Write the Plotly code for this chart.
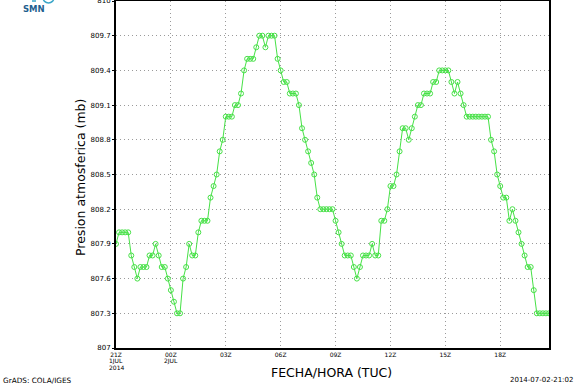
import pandas as pd
import plotly.graph_objects as go

# ---- data ----
start_time = "2014-07-01 21:00"
step = "10min"

pressure = [
    807.9, 808.0, 808.0, 808.0, 808.0, 807.8, 807.7, 807.6, 807.7, 807.7,
    807.7, 807.8, 807.8, 807.9, 807.8, 807.7, 807.7, 807.6, 807.5, 807.4,
    807.3, 807.3, 807.6, 807.7, 807.9, 807.8, 807.8, 808.0, 808.1, 808.1,
    808.1, 808.3, 808.4, 808.5, 808.7, 808.8, 809.0, 809.0, 809.0, 809.1,
    809.1, 809.2, 809.4, 809.5, 809.5, 809.5, 809.6, 809.7, 809.7, 809.6,
    809.7, 809.7, 809.7, 809.5, 809.4, 809.3, 809.3, 809.2, 809.2, 809.2,
    809.1, 808.9, 808.8, 808.7, 808.6, 808.5, 808.3, 808.2, 808.2, 808.2,
    808.2, 808.2, 808.1, 808.0, 807.9, 807.8, 807.8, 807.8, 807.7, 807.6,
    807.7, 807.8, 807.8, 807.8, 807.9, 807.8, 807.8, 808.1, 808.1, 808.2,
    808.4, 808.4, 808.5, 808.7, 808.9, 808.9, 808.8, 808.9, 809.0, 809.1,
    809.1, 809.2, 809.2, 809.2, 809.3, 809.3, 809.4, 809.4, 809.4, 809.4,
    809.3, 809.2, 809.3, 809.2, 809.1, 809.0, 809.0, 809.0, 809.0, 809.0,
    809.0, 809.0, 809.0, 808.8, 808.7, 808.5, 808.4, 808.3, 808.3, 808.1,
    808.2, 808.1, 808.0, 807.9, 807.8, 807.7, 807.7, 807.5, 807.3, 807.3,
    807.3, 807.3, 807.3,
]

y_tick_values = [807, 807.3, 807.6, 807.9, 808.2, 808.5, 808.8, 809.1, 809.4, 809.7, 810]
y_tick_labels = ["807", "807.3", "807.6", "807.9", "808.2", "808.5",
                 "808.8", "809.1", "809.4", "809.7", "810"]

x_tick_times = ["2014-07-01 21:00", "2014-07-02 00:00", "2014-07-02 03:00",
                "2014-07-02 06:00", "2014-07-02 09:00", "2014-07-02 12:00",
                "2014-07-02 15:00", "2014-07-02 18:00"]
x_tick_labels = ["21Z", "00Z", "03Z", "06Z", "09Z", "12Z", "15Z", "18Z"]
# second / third lines under the hour labels
x_sub_labels = [["1JUL", "2014"], ["2JUL"], [], [], [], [], [], []]

y_title = "Presion atmosferica (mb)"
x_title = "FECHA/HORA (TUC)"
left_note = "GrADS: COLA/IGES"
right_note = "2014-07-02-21:02"
logo_text = "SMN"

# ---- figure ----
times = pd.date_range(start_time, periods=len(pressure), freq=step)
tick_times = pd.to_datetime(x_tick_times)

GREEN = "rgb(70,225,70)"
fig = go.Figure()
fig.add_trace(go.Scatter(
    x=times, y=pressure, mode="lines+markers",
    line=dict(color=GREEN, width=1),
    marker=dict(symbol="circle-open", size=5, color=GREEN, line=dict(width=1, color=GREEN)),
    showlegend=False, hoverinfo="x+y",
))

W, H = 581, 385
L, R, T, B = 116, 32, 1, 37
pw, ph = W - L - R, H - T - B

def px(xp):
    return (xp - L) / pw

def py(yp):
    return (H - B - yp) / ph

y_tick_font = dict(family="DejaVu Sans", size=7, color="black")
x_tick_font = dict(family="DejaVu Sans", size=6, color="black")
grid_dash = "1px,3px"

annotations = [
    dict(text=y_title, xref="paper", yref="paper", x=px(80), y=py(178),
         textangle=-90, showarrow=False, xanchor="center", yanchor="middle",
         font=dict(family="DejaVu Sans", size=12.5, color="black")),
    dict(text=x_title, xref="paper", yref="paper", x=px(331), y=py(372),
         showarrow=False, xanchor="center", yanchor="middle",
         font=dict(family="DejaVu Sans", size=12.5, color="black")),
    dict(text=left_note, xref="paper", yref="paper", x=px(1), y=py(380),
         showarrow=False, xanchor="left", yanchor="middle",
         font=dict(family="DejaVu Sans", size=7.3, color="black")),
    dict(text=right_note, xref="paper", yref="paper", x=px(575), y=py(380),
         showarrow=False, xanchor="right", yanchor="middle",
         font=dict(family="DejaVu Sans", size=7, color="black")),
    dict(text="<b>" + logo_text + "</b>", xref="paper", yref="paper", x=px(34), y=py(9),
         showarrow=False, xanchor="center", yanchor="middle",
         font=dict(family="DejaVu Sans", size=8.5, color="#1f5f8f")),
]
line_centers = [361.5, 368.0]
for t, subs in zip(tick_times, x_sub_labels):
    for k, s in enumerate(subs):
        annotations.append(dict(
            text=s, xref="x", yref="paper", x=t, y=py(line_centers[k]),
            showarrow=False, xanchor="center", yanchor="middle", borderpad=0,
            font=x_tick_font))

fig.update_layout(
    width=W, height=H,
    margin=dict(l=L, r=R, t=T, b=B, autoexpand=False),
    paper_bgcolor="white", plot_bgcolor="white",
    xaxis=dict(
        range=[times[0], times[-1]],
        tickmode="array", tickvals=tick_times, ticktext=x_tick_labels,
        tickfont=x_tick_font, ticks="",
        showgrid=True, gridcolor="#9a9a9a", griddash=grid_dash, gridwidth=1,
        showline=True, linecolor="black", linewidth=2, mirror=True,
        zeroline=False, automargin=False, ticklabeloverflow="allow",
    ),
    yaxis=dict(
        range=[807, 810],
        tickmode="array", tickvals=y_tick_values, ticktext=y_tick_labels,
        tickfont=y_tick_font, ticks="outside", ticklen=2, tickcolor="black",
        showgrid=True, gridcolor="#9a9a9a", griddash=grid_dash, gridwidth=1,
        showline=True, linecolor="black", linewidth=2, mirror=True,
        zeroline=False, automargin=False, ticklabeloverflow="allow",
    ),
    annotations=annotations,
    shapes=[
        dict(type="circle", xref="paper", yref="paper",
             x0=px(43), x1=px(54), y0=py(3), y1=py(-8),
             line=dict(color="#3aa6c8", width=1.5)),
        dict(type="line", xref="paper", yref="paper",
             x0=px(32), x1=px(36), y0=py(1), y1=py(1),
             line=dict(color="#3aa6c8", width=1.5)),
    ],
)

fig.write_html("out.html", config={"displayModeBar": False},
               post_script="document.body.style.margin='0';document.body.style.overflow='hidden';")
